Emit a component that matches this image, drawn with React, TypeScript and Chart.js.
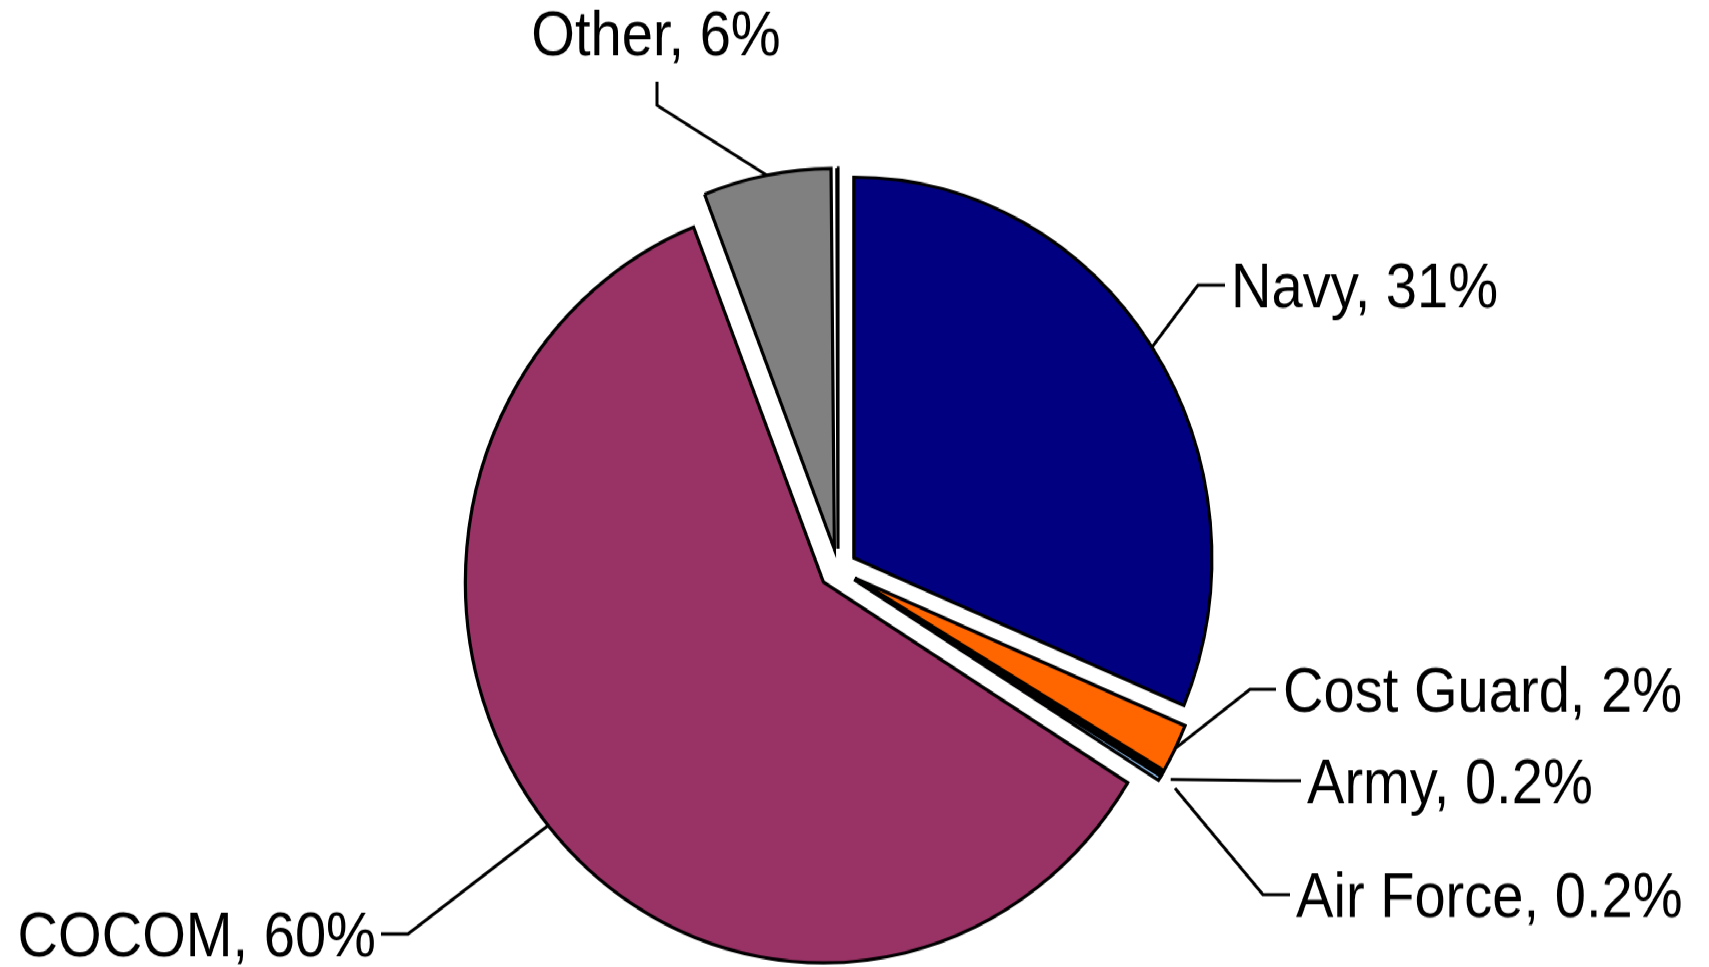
import React, { useEffect, useRef } from "react";
import { Chart, registerables } from "chart.js";

Chart.register(...registerables);

// ---- data ----
const categories = ["Navy", "Cost Guard", "Army", "Air Force", "COCOM", "Other", "", ""];
const shares = [31.3, 2.1, 0.2, 0.2, 60.2, 5.75, 0.1, 0.05];
const labelTexts = ["Navy, 31%", "Cost Guard, 2%", "Army, 0.2%", "Air Force, 0.2%", "COCOM, 60%", "Other, 6%", "", ""];
const sliceColors = ["#000080", "#FF6600", "#000000", "#99CCFF", "#993366", "#808080", "rgba(0,0,0,0)", "#FFFFFF"];
const sliceBorders = [3.2, 3.2, 3.2, 3.2, 3.2, 3.2, 0, 3.2];

// ---- layout (unscaled canvas coordinates) ----
const W = 1709;
const H = 909;
const SY = 967 / 909;
const CX = 838;
const CY = 535;
const R = 358;
const EXPLODE = 19;
const FONT_PX = 60;
const TEXT_SX = 0.935;
const CAP_MID = 0.358 * FONT_PX;

type Callout = {
  gap: number;
  elbow: [number, number];
  stub: [number, number];
  text: [number, number];
  align: CanvasTextAlign;
};

const callouts: (Callout | null)[] = [
  { gap: 0, elbow: [1198, 268], stub: [1225, 268], text: [1231, 268 + CAP_MID], align: "left" },
  { gap: 0, elbow: [1250, 648], stub: [1276, 648], text: [1283, 648 + CAP_MID], align: "left" },
  { gap: 10, elbow: [1274, 734], stub: [1301, 734], text: [1307, 734 + CAP_MID], align: "left" },
  { gap: 18, elbow: [1263, 841], stub: [1290, 841], text: [1296, 841 + CAP_MID], align: "left" },
  { gap: 0, elbow: [408, 878], stub: [381, 878], text: [376, 878 + CAP_MID], align: "right" },
  { gap: 0, elbow: [657, 99], stub: [657, 77], text: [656, 52], align: "center" },
  null,
  null,
];

const explodedPiePlugin = {
  id: "explodedPie",
  beforeDatasetsDraw(chart: any) {
    const ctx: CanvasRenderingContext2D = chart.ctx;
    const meta = chart.getDatasetMeta(0);
    meta.data.forEach((arc: any) => {
      const mid = (arc.startAngle + arc.endAngle) / 2;
      ctx.save();
      ctx.translate(Math.cos(mid) * EXPLODE, Math.sin(mid) * EXPLODE);
      arc.draw(ctx);
      ctx.restore();
    });
    return false;
  },
  afterDraw(chart: any) {
    const ctx: CanvasRenderingContext2D = chart.ctx;
    const meta = chart.getDatasetMeta(0);
    meta.data.forEach((arc: any, i: number) => {
      const c = callouts[i];
      if (!c) return;
      const mid = (arc.startAngle + arc.endAngle) / 2;
      const ox = arc.x + Math.cos(mid) * EXPLODE;
      const oy = arc.y + Math.sin(mid) * EXPLODE;
      const r = arc.outerRadius + c.gap;
      const px = ox + Math.cos(mid) * r;
      const py = oy + Math.sin(mid) * r;
      ctx.save();
      ctx.strokeStyle = "#000000";
      ctx.lineWidth = 3;
      ctx.lineJoin = "miter";
      ctx.beginPath();
      ctx.moveTo(px, py);
      ctx.lineTo(c.elbow[0], c.elbow[1]);
      ctx.lineTo(c.stub[0], c.stub[1]);
      ctx.stroke();
      ctx.translate(c.text[0], c.text[1]);
      ctx.scale(TEXT_SX, 1);
      ctx.fillStyle = "#000000";
      ctx.font = `${FONT_PX}px "Liberation Sans", Arial, sans-serif`;
      ctx.textAlign = c.align;
      ctx.textBaseline = "alphabetic";
      ctx.fillText(labelTexts[i], 0, 0);
      ctx.restore();
    });
  },
};

export default function App() {
  const canvasRef = useRef<HTMLCanvasElement | null>(null);

  useEffect(() => {
    if (!canvasRef.current) return;
    const chart = new Chart(canvasRef.current, {
      type: "pie",
      data: {
        labels: categories,
        datasets: [
          {
            data: shares,
            backgroundColor: sliceColors,
            borderColor: "#000000",
            borderWidth: sliceBorders,
            borderAlign: "center",
            borderJoinStyle: "miter",
            radius: R,
          } as any,
        ],
      },
      options: {
        responsive: false,
        animation: false,
        events: [],
        devicePixelRatio: 1,
        layout: {
          padding: { left: CX - 450, right: W - (CX + 450), top: CY - 370, bottom: H - (CY + 370) },
        },
        plugins: {
          legend: { display: false },
          tooltip: { enabled: false },
        },
      } as any,
      plugins: [explodedPiePlugin],
    });
    return () => chart.destroy();
  }, []);

  return (
    <div
      style={{
        position: "fixed",
        left: 0,
        top: 0,
        width: W,
        height: H,
        background: "#ffffff",
        transform: `scaleY(${SY})`,
        transformOrigin: "0 0",
      }}
    >
      <canvas ref={canvasRef} width={W} height={H} style={{ display: "block", width: W, height: H }} />
    </div>
  );
}
